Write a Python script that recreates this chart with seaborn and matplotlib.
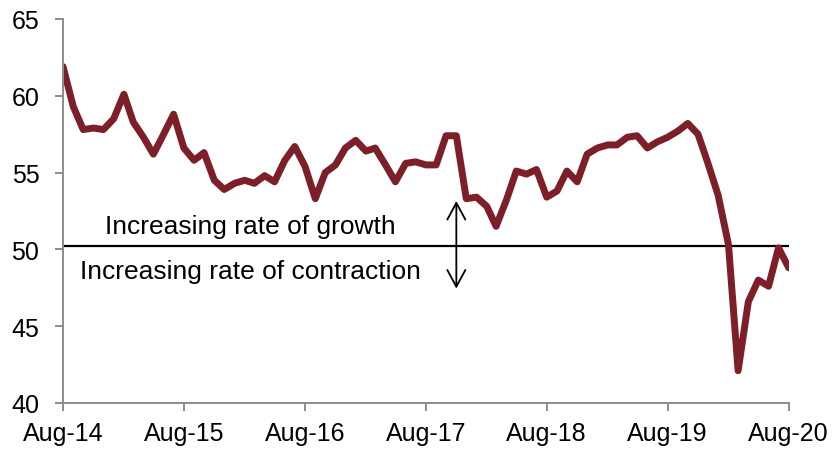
import matplotlib
matplotlib.use("Agg")
import matplotlib.pyplot as plt
import matplotlib.dates as mdates
import numpy as np
import pandas as pd
import seaborn as sns

# monthly index, Aug-14 .. Aug-20
start_month = "2014-08-01"
end_month = "2020-08-01"
index_values = [
    61.9, 59.3, 57.8, 57.9, 57.8, 58.5, 60.1, 58.3, 57.3, 56.2, 57.5, 58.8,
    56.6, 55.8, 56.3, 54.5, 53.9, 54.3, 54.5, 54.3, 54.8, 54.4, 55.8, 56.7,
    55.4, 53.3, 55.0, 55.5, 56.6, 57.1, 56.4, 56.6, 55.5, 54.4, 55.6, 55.7,
    55.5, 55.5, 57.4, 57.4, 53.3, 53.4, 52.8, 51.5, 53.2, 55.1, 54.9, 55.2,
    53.4, 53.8, 55.1, 54.4, 56.2, 56.6, 56.8, 56.8, 57.3, 57.4, 56.6, 57.0,
    57.3, 57.7, 58.2, 57.5, 55.6, 53.5, 50.3, 42.1, 46.6, 48.0, 47.6, 50.1,
    48.8,
]
threshold = 50.2
y_ticks = [40, 45, 50, 55, 60, 65]
growth_label = "Increasing rate of growth"
contraction_label = "Increasing rate of contraction"

df = pd.DataFrame({
    "month": pd.date_range(start_month, end_month, freq="MS"),
    "value": index_values,
})

sns.set_style("white")
plt.rcParams["font.family"] = ["Liberation Sans", "DejaVu Sans"]

line_color = "#7D1F28"
axis_gray = "#8C8C8C"

fig = plt.figure(figsize=(8.4, 4.52), dpi=100)
ax = fig.add_axes([0.075, 0.1062, 0.864, 0.8496])

sns.lineplot(data=df, x="month", y="value", ax=ax, color=line_color,
             linewidth=5.0, solid_capstyle="round", solid_joinstyle="round")

ax.axhline(threshold, color="black", linewidth=1.6, zorder=1)

ax.text(pd.Timestamp("2014-12-05"), 51.5, growth_label, fontsize=19,
        ha="left", va="center", color="black")
ax.text(pd.Timestamp("2014-09-22"), 48.6, contraction_label, fontsize=19,
        ha="left", va="center", color="black")
arrow_x = pd.Timestamp("2017-11-01")
ax.annotate("", xy=(arrow_x, 53.15), xytext=(arrow_x, 47.45),
            arrowprops=dict(arrowstyle="<->,head_length=1.2,head_width=0.65",
                            color="black", linewidth=1.3, shrinkA=0, shrinkB=0))

ax.set_xlim(df["month"].iloc[0], df["month"].iloc[-1])
ax.set_ylim(40, 65)
ax.set_yticks(y_ticks)
ax.xaxis.set_major_locator(mdates.MonthLocator(bymonth=8))
ax.xaxis.set_major_formatter(mdates.DateFormatter("%b-%y"))
ax.set_xlabel("")
ax.set_ylabel("")

for side in ["top", "right"]:
    ax.spines[side].set_visible(False)
for side in ["left", "bottom"]:
    ax.spines[side].set_color(axis_gray)
    ax.spines[side].set_linewidth(1.4)

ax.tick_params(axis="both", which="major", labelsize=18, length=6,
               width=1.4, color=axis_gray, labelcolor="black",
               direction="out", bottom=True, left=True)
ax.tick_params(axis="y", pad=11)
ax.tick_params(axis="x", pad=7)
ax.grid(False)

fig.savefig("out.png", dpi=100, facecolor="white")
